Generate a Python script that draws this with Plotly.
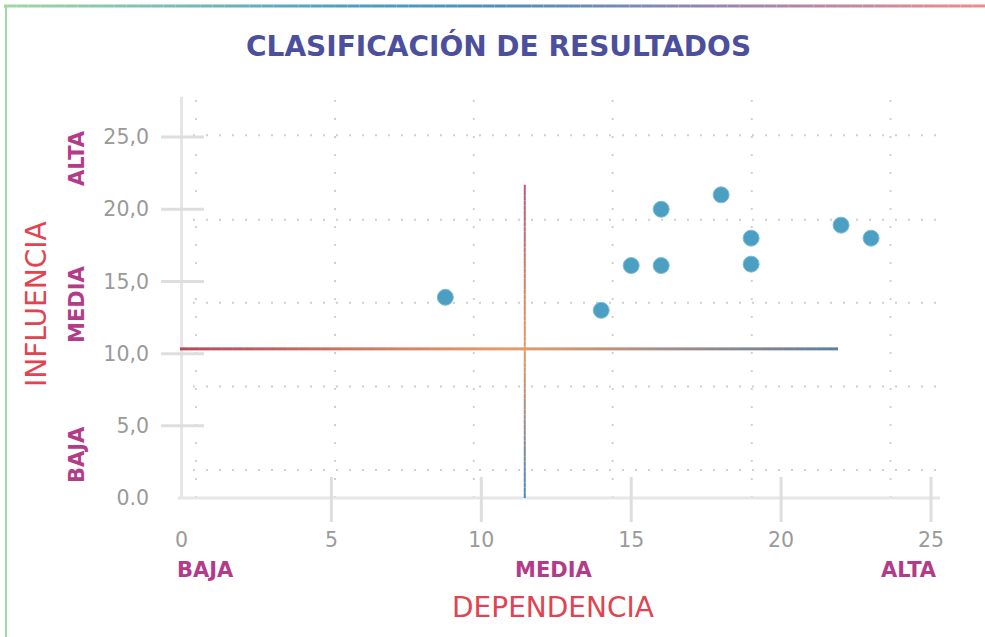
import plotly.graph_objects as go

# puntos: dependencia (x) e influencia (y)
dependencia = [8.8, 14, 15, 16, 16, 18, 19, 19, 22, 23]
influencia = [13.9, 13.0, 16.1, 16.1, 20.0, 21.0, 18.0, 16.2, 18.9, 18.0]

# lineas de corte (medias)
corte_x = 11.45
corte_y = 10.33
fin_corte_x = 21.7   # altura donde termina la linea vertical
fin_corte_y = 21.9   # x donde termina la linea horizontal

x_ticks = [0, 5, 10, 15, 20, 25]
x_ticktext = ['0', '5', '10', '15', '20', '25']
y_ticks = [0, 5, 10, 15, 20, 25]
y_ticktext = ['0.0', '5,0', '10,0', '15,0', '20,0', '25,0']

niveles = ['BAJA', 'MEDIA', 'ALTA']

XR = [-0.05, 25.3]
YR = [0, 28.4]

# rejilla punteada (desfasada de los ticks en el original)
grid_x = [0.48, 5.12, 9.75, 14.38, 19.02, 23.65]
grid_y = [1.94, 7.72, 13.52, 19.28, 25.12]

TITLE_C = '#4b4f9d'
RED = '#e2434f'
MAG = '#b43a8a'
GRAY = '#9a9a9a'
FONT = 'DejaVu Sans'


def hex2rgb(h):
    h = h.lstrip('#')
    return [int(h[i:i + 2], 16) for i in (0, 2, 4)]


def mix(stops, t):
    # stops: lista de (pos, color)
    for (p0, c0), (p1, c1) in zip(stops[:-1], stops[1:]):
        if p0 <= t <= p1:
            f = 0 if p1 == p0 else (t - p0) / (p1 - p0)
            a, b = hex2rgb(c0), hex2rgb(c1)
            return 'rgb(%d,%d,%d)' % tuple(round(a[i] + (b[i] - a[i]) * f) for i in range(3))
    return stops[-1][1]


def gradient_line(fig, x0, y0, x1, y1, stops, width, xref='x', yref='y', n=60):
    for i in range(n):
        t0, t1 = i / n, (i + 1) / n
        fig.add_shape(type='line', xref=xref, yref=yref,
                      x0=x0 + (x1 - x0) * t0, y0=y0 + (y1 - y0) * t0,
                      x1=x0 + (x1 - x0) * t1, y1=y0 + (y1 - y0) * t1,
                      line=dict(color=mix(stops, (t0 + t1) / 2), width=width), layer='above')


fig = go.Figure()

# rejilla
for gx in grid_x:
    fig.add_shape(type='line', x0=gx, x1=gx, y0=YR[0], y1=YR[1], layer='below',
                  line=dict(color='#d0d0d0', width=2, dash='2px,16px'))
for gy in grid_y:
    fig.add_shape(type='line', x0=XR[0], x1=XR[1], y0=gy, y1=gy, layer='below',
                  line=dict(color='#d0d0d0', width=2, dash='2px,11px'))

# ejes
W, H = 760, 410
def px(v):
    return (v - XR[0]) / (XR[1] - XR[0])
def py(v):
    return (v - YR[0]) / (YR[1] - YR[0])

fig.add_shape(type='line', xref='paper', yref='paper', x0=px(0), x1=px(0), y0=0, y1=py(27.8),
              line=dict(color='#e6e6e6', width=3))
fig.add_shape(type='line', xref='paper', yref='paper', x0=-0.003, x1=1, y0=0, y1=0,
              line=dict(color='#e6e6e6', width=3))
for v in y_ticks[1:]:
    fig.add_shape(type='line', xref='paper', yref='paper', x0=-19 / W, x1=24 / W, y0=py(v), y1=py(v),
                  line=dict(color='#dedede', width=3))
for v in x_ticks[1:]:
    fig.add_shape(type='line', xref='paper', yref='paper', x0=px(v), x1=px(v), y0=21 / H, y1=-24 / H,
                  line=dict(color='#dedede', width=3))

# lineas de corte con degradado
gradient_line(fig, corte_x, fin_corte_x, corte_x, 0,
              [(0, '#bd5870'), (0.52, '#ec9560'), (1, '#4d86b8')], 2)
gradient_line(fig, -0.12, corte_y, fin_corte_y, corte_y,
              [(0, '#b5475a'), (0.5, '#e99a6a'), (1, '#5a7fa3')], 3)

fig.add_trace(go.Scatter(x=dependencia, y=influencia, mode='markers',
                         marker=dict(size=16, color='#4b9fc2', line=dict(width=1, color='#7fbcd6')),
                         hoverinfo='x+y', showlegend=False))

# marco con degradado
gradient_line(fig, -176 / W, 1 + 82 / H, 1 + 45 / W, 1 + 82 / H,
              [(0, '#a0d8a3'), (0.35, '#4aa0c4'), (0.5, '#4a8fc0'), (0.75, '#a084b0'), (1, '#f08a8a')],
              3, xref='paper', yref='paper', n=80)
fig.add_shape(type='line', xref='paper', yref='paper', x0=-174 / W, x1=-174 / W, y0=1 + 82 / H, y1=-139 / H,
              line=dict(color='#a0d8a3', width=2))


def label(text, xx, yy, size, color, angle=0):
    # xx, yy en pixeles de la pagina
    fig.add_annotation(text=text, xref='paper', yref='paper', x=(xx - 180) / W, y=(498 - yy) / H,
                       xanchor='center', yanchor='middle', textangle=angle, showarrow=False,
                       font=dict(family=FONT, size=size, color=color))


# textos
label('<b>CLASIFICACIÓN DE RESULTADOS</b>', 498, 46, 28, TITLE_C)
label('INFLUENCIA', 36, 304, 28, RED, -90)
label('DEPENDENCIA', 553, 607, 28, RED)
for lab, yy in zip(niveles, [455, 305, 158]):
    label('<b>' + lab + '</b>', 77, yy, 21, MAG, -90)
for lab, xx in zip(niveles, [205, 553, 909]):
    label('<b>' + lab + '</b>', xx, 570, 21, MAG)

fig.update_xaxes(range=XR, tickvals=x_ticks, ticktext=x_ticktext, showgrid=False, zeroline=False,
                 showline=False, ticks='', ticklabelstandoff=27,
                 tickfont=dict(family=FONT, size=20.5, color=GRAY))
fig.update_yaxes(range=YR, tickvals=y_ticks, ticktext=y_ticktext, showgrid=False, zeroline=False,
                 showline=False, ticks='', ticklabelstandoff=30,
                 tickfont=dict(family=FONT, size=20.5, color=GRAY))

fig.update_layout(width=985, height=637, margin=dict(l=180, r=45, t=88, b=139),
                  plot_bgcolor='white', paper_bgcolor='white', showlegend=False)

fig.write_html('out.html', config={'displayModeBar': False},
               post_script="document.body.style.margin='0';")
